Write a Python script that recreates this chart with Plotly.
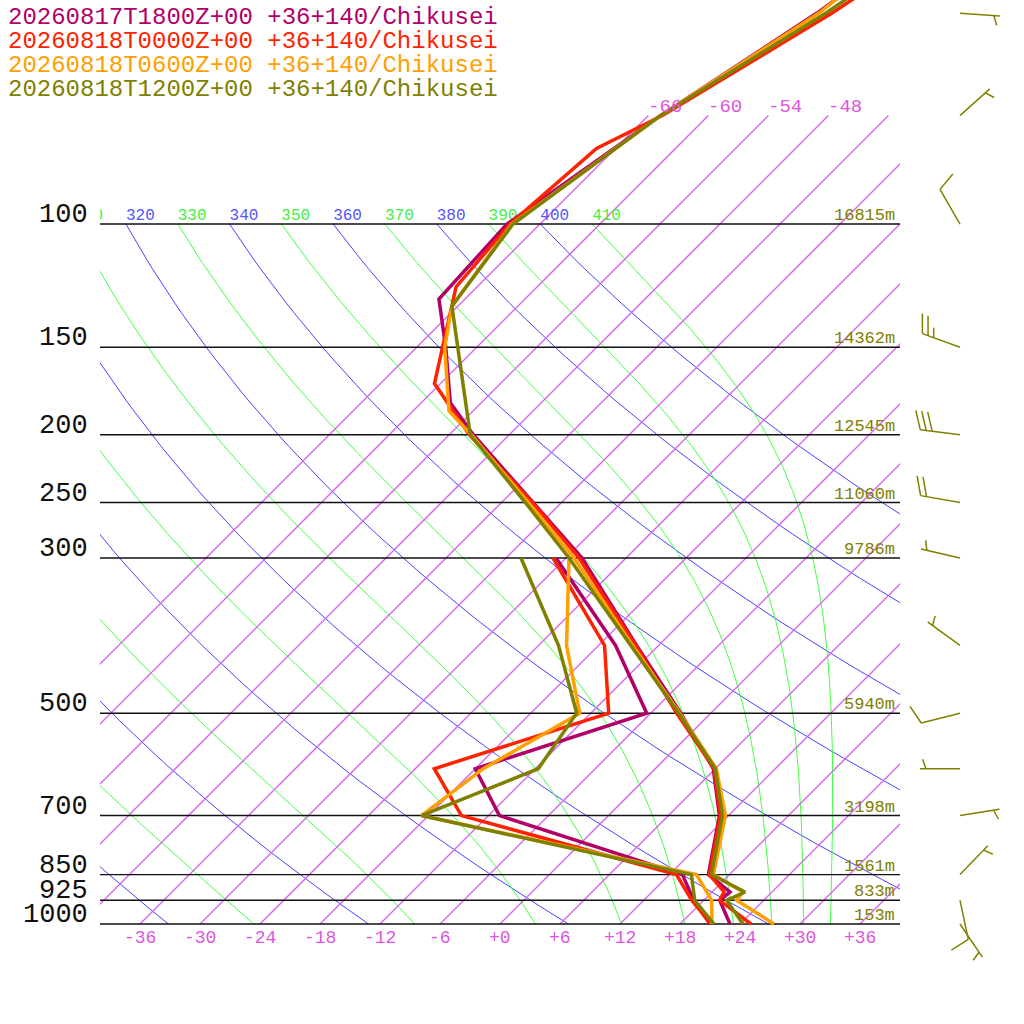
import numpy as np
from plotly import graph_objects as go

# header lines, one per model run (oldest first)
RUNS = [
    '20260817T1800Z+00 +36+140/Chikusei',
    '20260818T0000Z+00 +36+140/Chikusei',
    '20260818T0600Z+00 +36+140/Chikusei',
    '20260818T1200Z+00 +36+140/Chikusei',
]

# temperature profiles: pressure [hPa] / temperature [degC]
T_LEV_18Z = [1000, 925, 900, 850, 700, 600, 500, 400, 300, 250, 200, 180, 150, 128, 100, 70, 50, 30]
T_18Z = [23.0, 19.6, 19.8, 15.9, 11.1, 5.8, -3.0, -14.2, -28.4, -38.8, -51.6, -57.1, -63.1, -68.6, -69.3, -64.8, -59.4, -53.6]
T_LEV_00Z = [1000, 925, 900, 850, 700, 600, 500, 400, 300, 250, 200, 169, 123, 100, 78, 70, 50, 30]
T_00Z = [25.1, 19.6, 19.2, 16.0, 11.2, 5.9, -3.4, -14.3, -28.7, -38.9, -52.0, -60.6, -68.1, -69.0, -67.9, -64.6, -57.9, -50.1]
T_LEV_06Z = [1000, 925, 900, 850, 700, 600, 500, 400, 300, 250, 200, 185, 150, 131, 100, 70, 50, 30]
T_06Z = [27.4, 21.3, 21.1, 16.4, 11.7, 6.1, -3.1, -14.6, -29.2, -39.3, -51.8, -56.4, -63.2, -66.6, -68.8, -64.8, -59.2, -55.4]
T_LEV_12Z = [1000, 925, 900, 850, 700, 600, 500, 400, 300, 250, 200, 131, 100, 70, 50, 30]
T_12Z = [24.3, 20.3, 21.3, 16.2, 11.4, 6.0, -3.2, -14.8, -29.7, -39.6, -51.9, -66.6, -68.7, -64.8, -58.5, -51.5]

# dewpoint profiles [degC]
TD_LEV = [1000, 925, 850, 700, 600, 500, 400, 300]
TD_18Z = [21.0, 17.0, 13.3, -10.9, -18.0, -6.4, -16.3, -31.0]
TD_00Z = [21.1, 16.8, 12.7, -14.7, -22.1, -10.2, -17.4, -31.3]
TD_06Z = [21.2, 18.8, 14.7, -18.7, -17.2, -13.1, -21.2, -29.7]
TD_12Z = [21.4, 17.1, 14.2, -18.7, -11.7, -13.4, -22.0, -34.5]

# wind (latest run): direction [deg], speed [kt]
WIND_LEV = [1000, 925, 850, 700, 600, 500, 400, 300, 250, 200, 150, 100, 70, 50]
WIND_DIR = [146, 168, 44, 81, 270, 256, 306, 283, 280, 277, 290, 330, 48, 94]
WIND_SPD = [5, 10, 5, 5, 5, 10, 5, 5, 20, 30, 25, 10, 5, 5]

# labelled isobars and geopotential heights [m]
ISOBARS = [100, 150, 200, 250, 300, 500, 700, 850, 925, 1000]
HEIGHTS = [16815, 14362, 12545, 11060, 9786, 5940, 3198, 1561, 833, 153]

COLORS = ['#b00068', '#ff2200', '#ffa000', '#808000']
FONT = 'Liberation Mono'
ISO_COLOR = 'rgb(218,105,238)'

SKEW = 30.4          # degC of skew per unit ln(p)
PX_PER_LN = 304.0    # vertical pixels per unit ln(p)
P_BOT = 1000.0
P_TOP = P_BOT * np.exp(-924 / PX_PER_LN)     # top of the page
P_EDGE = P_BOT * np.exp(100 / PX_PER_LN)     # bottom of the page
KAPPA = 0.2857


def skew_x(t, p):
    return np.asarray(t, dtype=float) + SKEW * np.log(P_BOT / np.asarray(p, dtype=float))


def dtdp(t, p):
    tc = t - 273.15
    es = 6.112 * np.exp(17.67 * tc / (tc + 243.5))
    rs = 0.622 * es / (p - es)
    num = 287.04 * t + 2.501e6 * rs
    den = 1005.7 + 2.501e6 ** 2 * rs * 0.622 / (287.04 * t * t)
    return num / den / p


def moist_adiabat(t0, p0=100.0, p1=1000.0, n=200):
    ps = np.exp(np.linspace(np.log(p0), np.log(p1), n))
    ts = [t0]
    for i in range(1, n):
        t, p, h = ts[-1], ps[i - 1], ps[i] - ps[i - 1]
        k1 = dtdp(t, p)
        k2 = dtdp(t + h * k1 / 2, p + h / 2)
        k3 = dtdp(t + h * k2 / 2, p + h / 2)
        k4 = dtdp(t + h * k3, p + h)
        ts.append(t + h * (k1 + 2 * k2 + 2 * k3 + k4) / 6)
    return np.array(ts) - 273.15, ps


def line(x, y, color, width=1.0):
    return go.Scatter(x=[None if v is None else float(v) for v in x],
                      y=[None if v is None else float(v) for v in y],
                      mode='lines', line=dict(color=color, width=width),
                      hoverinfo='skip', showlegend=False)


def barb(p0, wdir, spd, x0=60, staff=40, full=20, half=10, gap=6):
    a = np.radians(wdir)
    ux, uy = np.sin(a), np.cos(a)
    r = np.radians(-70)
    bx, by = ux * np.cos(r) - uy * np.sin(r), ux * np.sin(r) + uy * np.cos(r)
    segs = [[(0, 0), (ux * staff, uy * staff)]]
    n_full, rest = divmod(spd, 10)
    pos = staff
    if n_full == 0:
        pos -= gap
    for _ in range(n_full):
        segs.append([(ux * pos, uy * pos), (ux * pos + bx * full, uy * pos + by * full)])
        pos -= gap
    if rest >= 5:
        segs.append([(ux * pos, uy * pos), (ux * pos + bx * half, uy * pos + by * half)])
    xs, ps = [], []
    for seg in segs:
        for dx, dy in seg:
            xs.append(float(x0 + dx))
            ps.append(float(p0 * np.exp(-dy / PX_PER_LN)))
        xs.append(None)
        ps.append(None)
    return xs, ps


fig = go.Figure()
ann = []

# dry adiabats (blue) and moist adiabats (green), labelled by theta at 100 hPa
pp = np.exp(np.linspace(np.log(100), np.log(1000), 80))
th_lab_x, th_lab_t, th_lab_c = [], [], []
dry_x, dry_p = [], []
for th in range(200, 401, 20):
    tt = th * (pp / 1000.0) ** KAPPA - 273.15
    dry_x += list(skew_x(tt, pp)) + [None]
    dry_p += list(pp) + [None]
    x0 = float(skew_x(tt[0], 100))
    if x0 > -46:
        th_lab_x.append(x0)
        th_lab_t.append(str(th))
        th_lab_c.append('#5555ff')
fig.add_trace(line(dry_x, dry_p, '#4444ff'))
wet_x, wet_p = [], []
for th in range(210, 411, 20):
    t0 = th * 0.1 ** KAPPA
    tt, pm = moist_adiabat(t0)
    wet_x += list(skew_x(tt, pm)) + [None]
    wet_p += list(pm) + [None]
    x0 = float(skew_x(t0 - 273.15, 100))
    if x0 > -46:
        th_lab_x.append(x0)
        th_lab_t.append(str(th))
        th_lab_c.append('#44ee44')
fig.add_trace(line(wet_x, wet_p, '#44ff44'))

# isotherms, 1000 -> 70 hPa, one trace
iso_x, iso_p = [], []
for t in range(-66, 37, 6):
    pp2 = np.exp(np.linspace(np.log(1000.0), np.log(70.0), 12))
    iso_x += list(skew_x(np.full(pp2.shape, t), pp2)) + [None]
    iso_p += list(pp2) + [None]
    xt = float(skew_x(t, 70.0))
    if xt < 36:
        ann.append(dict(xref='x', yref='y', x=xt, y=np.log10(70), text=f'{t:+d}',
                        xanchor='left', yanchor='bottom', yshift=-4, xshift=-2,
                        showarrow=False, font=dict(family=FONT, size=19, color='#dd55dd')))
fig.add_trace(line(iso_x, iso_p, ISO_COLOR, 1.5))

fig.add_trace(go.Scatter(x=th_lab_x, y=[100] * len(th_lab_x), mode='text', text=th_lab_t,
                         textposition='top right', cliponaxis=True, hoverinfo='skip',
                         textfont=dict(family=FONT, size=16, color=th_lab_c), showlegend=False))

# isobars
for p in ISOBARS:
    fig.add_trace(line([-40, 40], [p, p], '#111111', 1.4))

# profiles
profiles = [
    (T_LEV_18Z, T_18Z, TD_18Z),
    (T_LEV_00Z, T_00Z, TD_00Z),
    (T_LEV_06Z, T_06Z, TD_06Z),
    (T_LEV_12Z, T_12Z, TD_12Z),
]
for (lev, tt, td), c in zip(profiles, COLORS):
    fig.add_trace(line(skew_x(tt, lev), lev, c, 3.5))
    fig.add_trace(line(skew_x(td, TD_LEV), TD_LEV, c, 3.5))

# wind barbs
bx_all, bp_all = [], []
for p, d, s in zip(WIND_LEV, WIND_DIR, WIND_SPD):
    xs, ps = barb(p, d, s)
    bx_all += xs
    bp_all += ps
fig.add_trace(go.Scatter(x=bx_all, y=bp_all, mode='lines', xaxis='x2', yaxis='y',
                         line=dict(color='#808000', width=1.5), hoverinfo='skip',
                         showlegend=False))

for p, h in zip(ISOBARS, HEIGHTS):
    ann.append(dict(xref='paper', yref='y', x=0, y=np.log10(p), text=str(p),
                    xanchor='right', yanchor='bottom', xshift=-10, yshift=-8,
                    showarrow=False, font=dict(family=FONT, size=27, color='#111111')))
    ann.append(dict(xref='x', yref='y', x=40, y=np.log10(p), text=f'{h}m',
                    xanchor='right', yanchor='bottom', xshift=-3, yshift=-3,
                    showarrow=False, font=dict(family=FONT, size=17, color='#808000')))
for t in range(-36, 37, 6):
    ann.append(dict(xref='x', yref='y', x=t, y=3, text=f'{t:+d}',
                    xanchor='center', yanchor='top', yshift=-2,
                    showarrow=False, font=dict(family=FONT, size=18, color='#dd55dd')))
for i, (name, c) in enumerate(zip(RUNS, COLORS)):
    ann.append(dict(xref='paper', yref='paper', x=-94 / 924, y=1 - (17 + 24 * i) / 1024,
                    text=name, xanchor='left', yanchor='middle', showarrow=False,
                    font=dict(family=FONT, size=24, color=c)))

fig.update_layout(
    width=1024, height=1024,
    margin=dict(l=100, r=0, t=0, b=0),
    paper_bgcolor='white', plot_bgcolor='white',
    showlegend=False,
    xaxis=dict(domain=[0, 800 / 924], range=[-40, 40], visible=False),
    xaxis2=dict(domain=[800 / 924, 1], range=[0, 124], visible=False, anchor='y'),
    yaxis=dict(type='log', range=[np.log10(P_EDGE), np.log10(P_TOP)], visible=False),
    annotations=ann,
)

fig.write_html('out.html', config={'displayModeBar': False},
               post_script="document.body.style.margin='0px';")
